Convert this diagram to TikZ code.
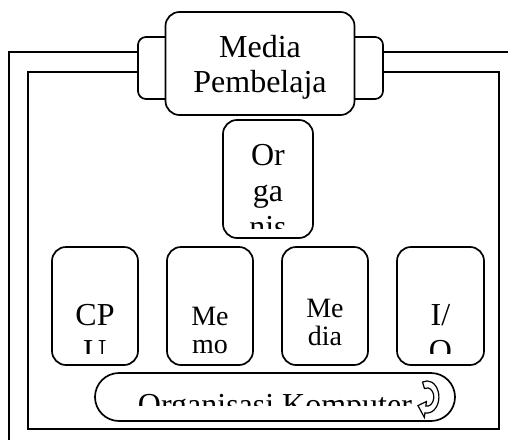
\documentclass[tikz,border=0pt]{standalone}
\usepackage{fontspec}
\setmainfont{Liberation Serif}
\begin{document}
\begin{tikzpicture}[x=1pt,y=-1pt,
  frame/.style={line width=1.7pt},
  rbox/.style={draw, line width=1.7pt, fill=white, rounded corners=14pt},
  tab/.style={draw, line width=1.7pt, fill=white, rounded corners=8pt},
  big/.style={font=\fontsize{32}{36}\selectfont, inner sep=0pt, anchor=base},
  small/.style={font=\fontsize{28}{32}\selectfont, inner sep=0pt, anchor=base}]
\useasboundingbox (0,0) rectangle (508,439);
% outer frame
\draw[frame] (9,445) -- (9,52) -- (150,52);
\draw[frame] (370,52) -- (515,52);
% inner frame
\draw[frame] (28,72) rectangle (499,429);
% tabs
\draw[tab] (138,37) rectangle (185,99);
\draw[tab] (335,37) rectangle (383,99);
% title
\node[rbox, minimum width=189pt, minimum height=103pt] (title) at (260,63.5) {};
\node[big] (t1) at (260,57) {Media};
\node[big] (t2) at (260,92) {Pembelaja};
% organisasi box
\node[rbox, minimum width=90pt, minimum height=118pt] (org) at (268,179) {};
\begin{scope}
\clip (223,120) rectangle (313,228);
\node[big] (o1) at (268,165) {Or};
\node[big] (o2) at (268,201) {ga};
\node[big] (o3) at (268,237) {nis};
\end{scope}
% bottom boxes
\node[rbox, minimum width=86pt, minimum height=118pt] (cpu) at (95,306) {};
\node[rbox, minimum width=86pt, minimum height=118pt] (mem) at (210,306) {};
\node[rbox, minimum width=86pt, minimum height=118pt] (med) at (325,306) {};
\node[rbox, minimum width=87pt, minimum height=118pt] (io) at (440.5,306) {};
\begin{scope}
\clip (52,247) rectangle (484,353);
\node[big] (c1) at (95,325) {CP};
\node[big] (c2) at (95,361) {U};
\node[small] (m1) at (210,325) {Me};
\node[small] (m2) at (210,353) {mo};
\node[small] (d1) at (325,317) {Me};
\node[small] (d2) at (325,345) {dia};
\node[big] (i1) at (440.5,325) {I/};
\node[big] (i2) at (440.5,361) {O};
\end{scope}
% pill
\node[draw, line width=1.7pt, fill=white, rounded corners=24pt, minimum width=360pt, minimum height=48pt] (pill) at (275,397) {};
\begin{scope}
\clip (95,373) rectangle (455,405);
\node[big] (p1) at (275,415) {Organisasi Komputer};
\end{scope}
% cycle icon
\begin{scope}[shift={(427,397)}, xscale=0.85, yscale=-1.15]
\draw[line width=1.2pt, fill=white] (112:14) arc[start angle=112, end angle=-100, radius=14]
  -- (-100:18) -- (-145:13) -- (-100:4) -- (-100:8)
  arc[start angle=-100, end angle=112, radius=8] -- cycle;
\end{scope}
\end{tikzpicture}
\end{document}
